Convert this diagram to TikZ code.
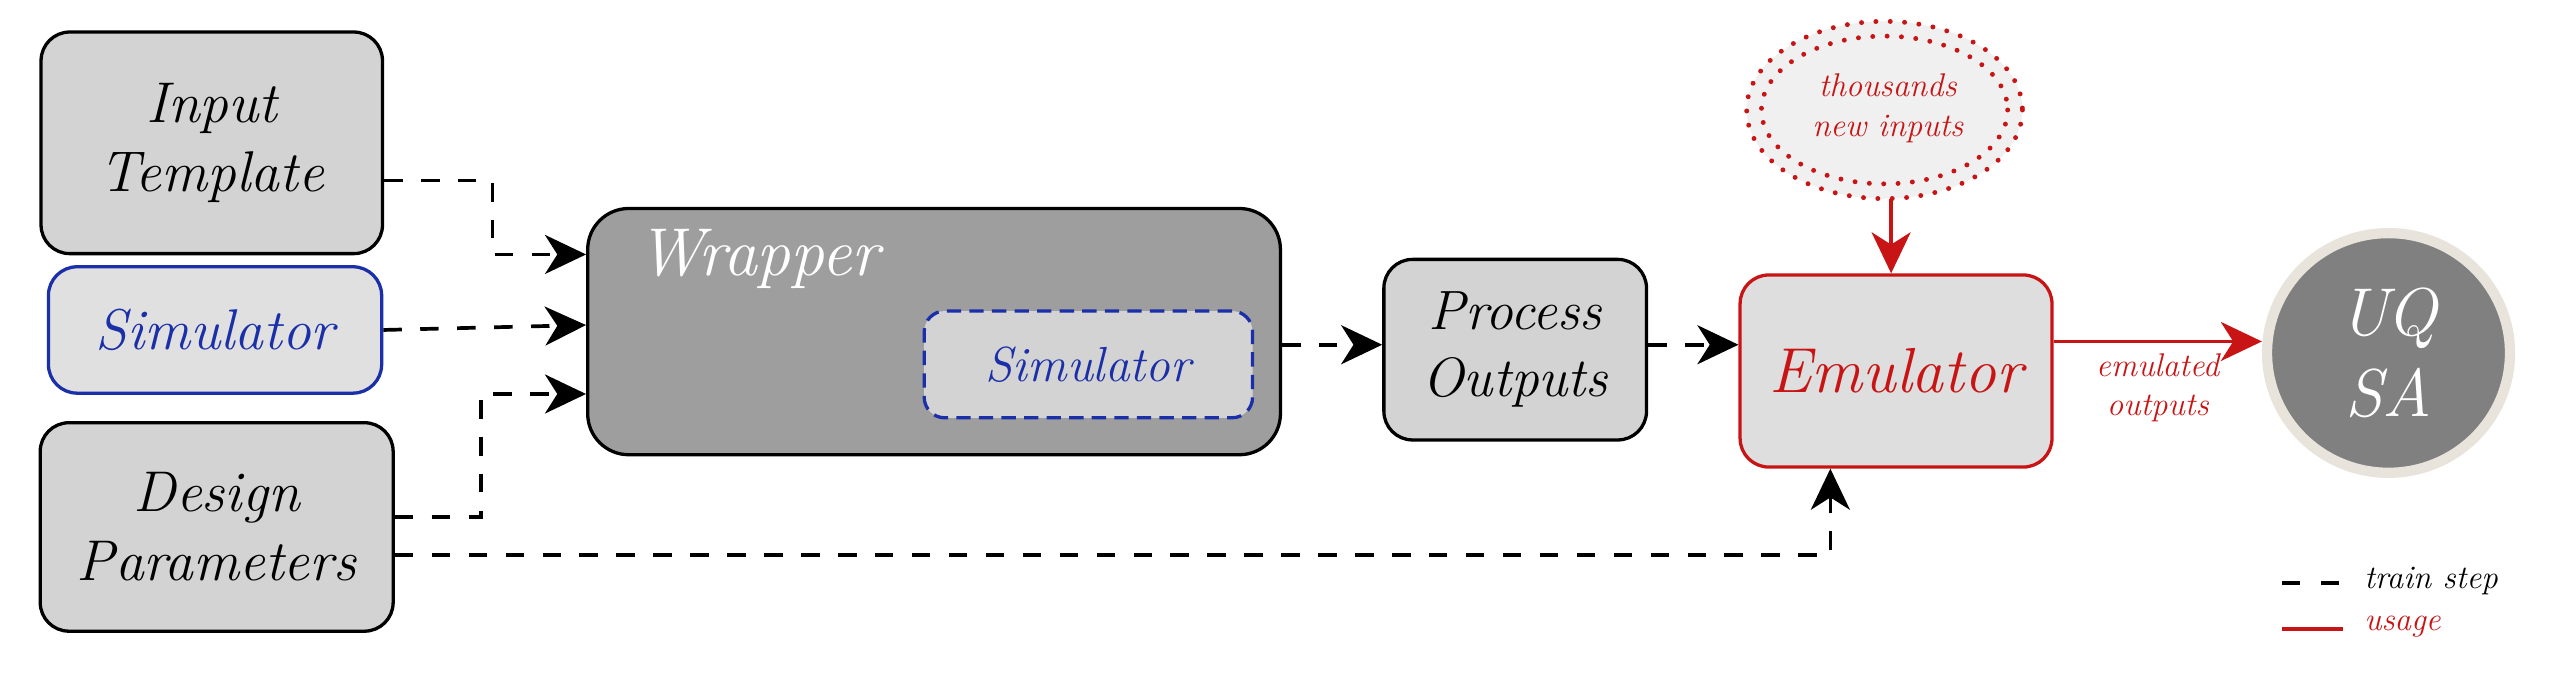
\documentclass[tikz,border=0pt]{standalone}
\usetikzlibrary{arrows.meta,positioning,shapes.geometric}
\definecolor{myred}{HTML}{C81414}
\definecolor{myblue}{HTML}{1A2FA8}
\definecolor{boxg}{HTML}{D3D3D3}
\definecolor{wrapg}{HTML}{9E9E9E}
\definecolor{uqg}{HTML}{808080}
\definecolor{uqb}{HTML}{E8E4DC}
\newcommand{\fs}[1]{\fontsize{#1}{1.2\dimexpr#1\relax}\selectfont\itshape}
\begin{document}
\begin{tikzpicture}[x=0.8pt,y=-0.8pt,
  box/.style={draw=black,line width=1.6pt,rounded corners=14pt,fill=boxg,align=center,inner sep=0pt},
  train/.style={draw=black,line width=1.8pt,dash pattern=on 9pt off 9pt,-{Stealth[length=20pt,width=19pt,inset=6pt]}},
  use/.style={draw=myred,line width=1.8pt,-{Stealth[length=20pt,width=19pt,inset=6pt]}},
  lab/.style={align=center,inner sep=0pt}]
\useasboundingbox (0,0) rectangle (1568,420);
% boxes
\node[box,font=\fs{28pt},minimum width=208*0.8pt,minimum height=135*0.8pt] (it) at (129,87) {Input\\Template};
\node[box,font=\fs{28pt},text=myblue,draw=myblue,fill=boxg!70!white,minimum width=203*0.8pt,minimum height=77*0.8pt] (sim) at (131,201) {Simulator};
\node[box,font=\fs{28pt},minimum width=215*0.8pt,minimum height=127*0.8pt] (dp) at (132,321) {Design\\Parameters};
\node[box,fill=wrapg,rounded corners=20pt,minimum width=422*0.8pt,minimum height=150*0.8pt] (wr) at (569,202) {};
\node[lab,anchor=west,font=\fs{33pt},text=white] (wt) at (388,158) {Wrapper};
\node[box,font=\fs{24pt},text=myblue,draw=myblue,dash pattern=on 7pt off 4pt,fill=boxg,rounded corners=10pt,minimum width=200*0.8pt,minimum height=65*0.8pt] (isim) at (663,222) {Simulator};
\node[box,font=\fs{27pt},minimum width=160*0.8pt,minimum height=110*0.8pt] (po) at (923,213) {Process\\Outputs};
\node[box,font=\fs{31pt},text=myred,draw=myred,fill=boxg!75!white,minimum width=190*0.8pt,minimum height=117*0.8pt] (em) at (1155,226) {Emulator};
% thousands ellipse
\fill[black!6] (1148,67) ellipse [x radius=84,y radius=54];
\draw[myred,line width=2.4pt,dash pattern=on 0pt off 7pt,line cap=round] (1148,67) ellipse [x radius=84,y radius=54];
\draw[myred,line width=2.4pt,dash pattern=on 0pt off 7pt,line cap=round] (1148,67) ellipse [x radius=75,y radius=45];
\node[lab,font=\fs{16pt},text=myred] (th) at (1150,66) {thousands\\new inputs};
\coordinate (thb) at (1152,121);
% UQ SA
\node[ellipse,draw=uqb,line width=5pt,fill=uqg,minimum width=148*0.8pt,minimum height=146*0.8pt,inner sep=0pt,align=center,font=\fs{33pt},text=white] (uq) at (1455,215) {UQ\\SA};
% connectors
\coordinate (a1) at (300,110); \coordinate (a2) at (300,155);
\draw[train] (it.east |- a1) -- (a1) -- (a2) -- (wr.west |- a2);
\draw[train] (sim.east) -- (wr.west |- 0,198);
\coordinate (b1) at (293,315); \coordinate (b2) at (293,240);
\draw[train] (dp.east |- b1) -- (b1) -- (b2) -- (wr.west |- b2);
\coordinate (c1) at (1115,338);
\draw[train] (dp.east |- c1) -- (c1) -- (em.south -| c1);
\draw[train] (wr.east |- 0,210) -- (po.west |- 0,210);
\draw[train] (po.east |- 0,210) -- (em.west |- 0,210);
\draw[use] (thb) -- (em.north -| thb);
\draw[use] (em.east |- 0,208) -- node[below=5pt,lab,font=\fs{16pt},text=myred] (eo) {emulated\\outputs} (uq.west |- 0,208);
% legend
\coordinate (l1) at (1390,355); \coordinate (l2) at (1427,355);
\draw[black,line width=1.8pt,dash pattern=on 9pt off 10pt] (l1) -- (l2);
\node[lab,anchor=west,font=\fs{16pt}] (lt) at (1440,354) {train step};
\coordinate (l3) at (1390,383); \coordinate (l4) at (1427,383);
\draw[myred,line width=1.8pt] (l3) -- (l4);
\node[lab,anchor=west,font=\fs{16pt},text=myred] (lu) at (1440,382) {usage};
\end{tikzpicture}
\end{document}
